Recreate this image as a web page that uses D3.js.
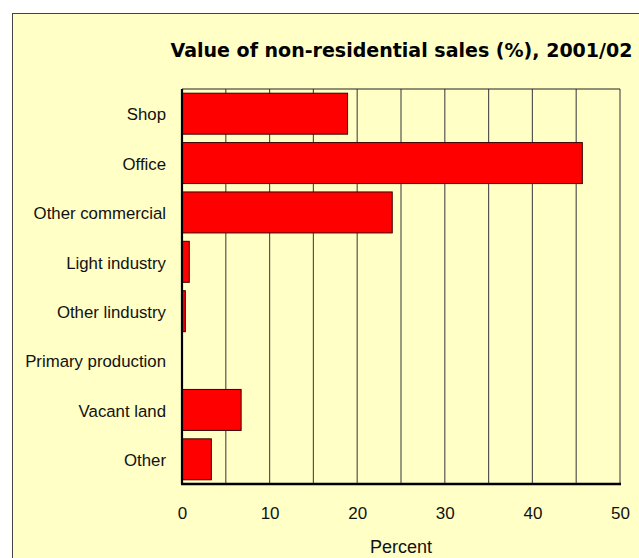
<!DOCTYPE html>
<html>
<head>
<meta charset="utf-8">
<script src="https://cdn.jsdelivr.net/npm/d3@7"></script>
<style>
  body { margin: 0; background: #fff; }
  svg { display: block; }
</style>
</head>
<body>
<svg id="chart" width="639" height="558"></svg>
<script>
// value of non-residential sales by type, 2001/02
var categories = ["Shop", "Office", "Other commercial", "Light industry",
    "Other lindustry", "Primary production", "Vacant land", "Other"];
var values = [18.9, 45.7, 24.0, 0.83, 0.38, 0.04, 6.75, 3.35];
var xTicks = [0, 10, 20, 30, 40, 50];
var gridTicks = [5, 10, 15, 20, 25, 30, 35, 40, 45, 50];

var svg = d3.select("#chart");

var margin = {top: 89, left: 182, right: 620, bottom: 484};

// yellow panel, runs off the right and bottom edge
svg.append("rect")
    .attr("x", 12.5)
    .attr("y", 13.5)
    .attr("width", 700)
    .attr("height", 600)
    .attr("fill", "#ffffc6")
    .attr("stroke", "#444")
    .attr("stroke-width", 1);

svg.append("text")
    .attr("x", 401.5)
    .attr("y", 57)
    .attr("text-anchor", "middle")
    .attr("font-family", "DejaVu Sans, sans-serif")
    .attr("font-weight", "bold")
    .attr("font-size", "19px")
    .attr("textLength", 462)
    .attr("lengthAdjust", "spacingAndGlyphs")
    .attr("fill", "#000")
    .text("Value of non-residential sales (%), 2001/02");

var x = d3.scaleLinear()
    .domain([0, 50])
    .range([margin.left, margin.right]);

var y = d3.scaleBand()
    .domain(categories)
    .range([margin.top, margin.bottom])
    .paddingInner(0.17)
    .paddingOuter(0.085);

var grid = svg.append("g").attr("class", "grid");

grid.selectAll("line")
    .data(gridTicks)
    .enter().append("line")
    .attr("x1", function(d) { return x(d); })
    .attr("x2", function(d) { return x(d); })
    .attr("y1", margin.top)
    .attr("y2", margin.bottom)
    .attr("stroke", "#555")
    .attr("stroke-width", 1.2);

// top border of plot
svg.append("line")
    .attr("x1", margin.left)
    .attr("x2", margin.right)
    .attr("y1", margin.top)
    .attr("y2", margin.top)
    .attr("stroke", "#222")
    .attr("stroke-width", 1.2);

svg.append("g").attr("class", "bars")
    .selectAll("rect")
    .data(values)
    .enter().append("rect")
    .attr("x", x(0))
    .attr("y", function(d, i) { return y(categories[i]); })
    .attr("width", function(d) { return x(d) - x(0); })
    .attr("height", y.bandwidth())
    .attr("fill", "#ff0000")
    .attr("stroke", "#3a0000")
    .attr("stroke-width", 1);

// category labels
svg.append("g")
    .selectAll("text")
    .data(categories)
    .enter().append("text")
    .attr("x", 166)
    .attr("y", function(d) { return y(d) + y.bandwidth() / 2; })
    .attr("dy", "0.4em")
    .attr("text-anchor", "end")
    .attr("font-family", "Liberation Sans, Arial, sans-serif")
    .attr("font-size", "16.8px")
    .attr("fill", "#111")
    .text(function(d) { return d; });

// axes lines
svg.append("line")
    .attr("x1", margin.left)
    .attr("x2", margin.left)
    .attr("y1", margin.top)
    .attr("y2", margin.bottom)
    .attr("stroke", "#000")
    .attr("stroke-width", 2.2);

svg.append("line")
    .attr("x1", margin.left - 1)
    .attr("x2", margin.right + 1)
    .attr("y1", margin.bottom)
    .attr("y2", margin.bottom)
    .attr("stroke", "#000")
    .attr("stroke-width", 2.5);

var xAxis = svg.append("g")
    .attr("transform", "translate(0," + margin.bottom + ")")
    .call(d3.axisBottom(x).tickValues(xTicks).tickSize(0).tickPadding(23));

xAxis.select(".domain").remove();
xAxis.selectAll("text")
    .attr("font-family", "Liberation Sans, Arial, sans-serif")
    .attr("font-size", "17px")
    .attr("fill", "#111");

svg.append("text")
    .attr("x", (margin.left + margin.right) / 2)
    .attr("y", 553)
    .attr("text-anchor", "middle")
    .attr("font-family", "Liberation Sans, Arial, sans-serif")
    .attr("font-size", "18px")
    .attr("fill", "#111")
    .text("Percent");
</script>
</body>
</html>
